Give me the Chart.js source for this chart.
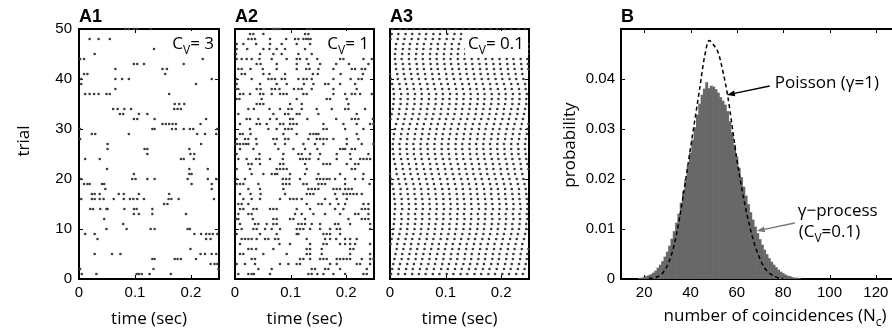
<!DOCTYPE html>
<html>
<head>
<meta charset="utf-8">
<script src="https://cdn.jsdelivr.net/npm/chart.js@4.4.0/dist/chart.umd.min.js"></script>
<style>
  html, body { margin: 0; padding: 0; background: #fff; overflow: hidden; width: 892px; height: 332px; }
  canvas { position: absolute; top: 0; }
</style>
</head>
<body>
<canvas id="a1" width="222" height="332" style="left:0px"></canvas>
<canvas id="a2" width="155" height="332" style="left:222px"></canvas>
<canvas id="a3" width="155" height="332" style="left:377px"></canvas>
<canvas id="b" width="400" height="332" style="left:532px"></canvas>
<script>
// tick values
var timeTicks = [0, 0.1, 0.2];
var trialTicks = [0, 10, 20, 30, 40, 50];
var countTicks = [20, 40, 60, 80, 100, 120];
var probTicks = [0, 0.01, 0.02, 0.03, 0.04];

// spike times in ms, one list per trial (trial 1 first)
var a1Spikes = [
  [5,31,103,107,112,126,164],
  [2,133,249],
  [235,242,247],
  [131,135,171,176,182,209],
  [28,59,74,217,225,237,245],
  [199],
  [],
  [33,227,235],
  [11,28,206,218,227,233,239,247],
  [49,85,128,135,194,198],
  [79],
  [45],
  [98,107,131,191],
  [20,25,38,49,51,81,98,103,131],
  [152,158],
  [4,23,28,37,44,62,80,91,97,104,116,160,165,178,241],
  [23,28,37,71,80,107,161],
  [47,237],
  [9,15,19,41,45,201,237],
  [4,95,101,122,135,194,230,245],
  [98,197,201],
  [50,197,230],
  [],
  [11,37,182,187,205],
  [122,199,206],
  [51,117,122,197],
  [51,218],
  [2],
  [23,29,89,211,225,245],
  [2,131,135,166,173,187,198,204,247],
  [149,155,161,167,173,217],
  [98,104,135,227],
  [73,79,107,122],
  [61,69,81,93,170,176,182],
  [171,179,188],
  [],
  [11,19,27,35,49,55,161],
  [65],
  [4,209],
  [4,65,77,89,237],
  [9,15,154],
  [65,149,157],
  [98,104,116,187],
  [2,9,221],
  [28],
  [134],
  [],
  [19,35,55],
  [],
  [83,89,98,104,128]
];

var a2Spikes = [
  [6,24,30,34,63,132,138,148,159,177,198,231,237],
  [42,66,138,144,162,168,189,237],
  [3,18,36,81,96,111,117,171,183,219,225,243],
  [30,36,117,123,135,153,159,165,183,189,195,201,207,228,243,249],
  [9,15,51,93,129,135,156,207,243],
  [24,30,38,69,129,135,156,207,213],
  [9,80,99,135,159,165,189,198,207,216,243],
  [12,18,24,30,39,54,60,72,78,129,162,171,182,198,207,219],
  [3,45,75,111,114,159,165,171,189],
  [12,33,39,54,66,81,111,117,123,135,153,171,183,189,243],
  [9,36,42,57,69,75,114,120,126,138,153,180,186,207,243],
  [2,6,32,69,75,99,105,126,204,228,234,240],
  [6,24,30,108,120,141,162,189,216,222,240],
  [9,15,33,39,63,69,75,111,135,180,195,228,234,240],
  [6,12,24,129,150,156,171,186,198,231,240],
  [15,30,45,81,99,105,111,120,162,183,201],
  [9,28,46,90,129,135,141,180,195,201,207,213,219,228],
  [24,45,87,132,138,144,150,177,183,189,198,204,210],
  [3,9,15,42,86,92,98,123,129,150,156,162,198,242],
  [3,18,86,92,98,117,147,153,159,165,170,180,198,216,230],
  [30,51,66,72,76,99,126,150,189,231],
  [3,27,75,81,87,93,129,210,216],
  [24,30,45,81,87,126,159,165,171,201,216,222],
  [6,21,38,44,63,86,117,122,128,134,150,183,208,225,231,237,243],
  [3,44,87,114,120,135,153,183,207,240],
  [9,33,78,105,126,148,189,194,198,210,216],
  [1,4,9,15,20,24,39,72,90,123,144,159,201,228,249],
  [3,18,24,38,69,75,90,96,132,147,153,159,165,177,201,222],
  [9,14,28,87,111,135,141,146,150,219],
  [27,60,75,90,96,102,159,165,198,231],
  [9,39,45,57,81,87,99,105,111,159,195,219,243,249],
  [21,27,42,63,75,99,104,130,182,210,216,222,248],
  [6,69,90,96,111,116,150,219],
  [24,34,62,81,96,102,120,147,174,198,204,234],
  [39,45,51,99,120,204],
  [3,8,48,111,165,171,201],
  [9,15,27,45,51,66,81,87,93,123,129,177,198,210,216,225,246],
  [2,6,39,46,66,72,80,106,114,120,138,177,219],
  [3,45,75,93,124,141,162,168,189,216],
  [3,30,60,66,72,84,90,114,123,129,138,177,208,222,228],
  [12,18,51,62,90,140,149,190,230],
  [6,12,28,50,75,111,128,134,150,177,210,216,228,234],
  [39,46,75,111,132,153,182,205,240],
  [3,12,21,30,44,66,93,111,117,129,148,189,195,231,246],
  [2,45,69,84,114,138,180,231],
  [3,22,51,62,75,90,126],
  [3,15,38,63,84,111,135],
  [24,30,36,63,92,108,114,123,128,132,136],
  [27,33,51,126,132],
  [52,68,72,76,81,130,136]
];

var a3Spikes = [
  [2,15,27,40,52,64,77,89,102,114,127,139,152,164,177,189,202,214,227,239],
  [4,16,29,41,54,66,79,92,104,117,129,142,154,167,179,192,205,217,230,242],
  [6,18,31,43,56,69,81,94,106,119,132,144,157,169,182,194,207,219,232,244],
  [8,21,33,46,58,71,83,96,109,121,134,146,159,171,184,196,209,221,234,246],
  [10,22,35,47,60,72,85,97,110,122,135,147,160,172,185,197,210,222,235,247],
  [12,24,37,49,62,74,87,99,112,124,137,149,162,174,187,199,212,224,237,249],
  [1,13,26,38,51,63,76,88,101,113,126,138,151,163,176,188,201,213,226,238],
  [3,15,28,40,53,66,78,91,103,116,128,141,153,166,178,191,203,216,228,241],
  [5,17,30,42,55,67,80,92,105,117,130,143,155,168,180,193,205,218,230,243],
  [6,19,31,44,56,69,81,94,107,119,132,144,157,169,182,194,207,220,232,245],
  [7,20,32,45,57,70,82,95,107,120,133,145,158,170,183,195,208,220,233,245],
  [8,21,33,46,58,71,84,96,109,121,134,146,159,171,184,197,209,222,234,247],
  [8,20,33,45,58,70,83,96,108,121,133,146,158,171,183,196,208,221,233,246],
  [9,22,34,47,59,72,84,97,109,122,134,147,160,172,185,197,210,222,235,247],
  [9,21,34,46,59,71,84,96,109,121,134,146,159,172,184,197,209,222,234,247],
  [8,21,33,46,58,71,83,96,108,121,133,146,158,171,183,196,208,221,233,246],
  [7,19,32,44,57,69,82,95,107,120,132,145,157,170,182,195,207,220,232,245],
  [6,19,31,44,56,69,81,94,106,119,131,144,156,169,182,194,207,219,232,244],
  [4,17,29,42,54,67,79,92,104,117,130,142,155,167,180,192,205,217,230,242],
  [2,15,27,40,52,65,77,90,103,115,128,140,153,165,178,190,203,215,228,240],
  [0,12,25,37,50,63,75,88,100,113,125,138,150,163,175,188,200,213,225,238],
  [11,23,36,48,61,73,86,99,111,124,136,149,161,174,186,199,211,224,236,249],
  [9,22,34,47,59,72,84,97,109,122,135,147,160,172,185,197,210,222,235,247],
  [7,20,32,45,57,70,82,95,107,120,132,145,158,170,183,195,208,220,233,245],
  [6,18,31,43,56,68,81,93,106,119,131,144,156,169,181,194,206,219,231,244],
  [5,18,30,43,55,68,80,93,105,118,130,143,156,168,181,193,206,218,231,243],
  [5,17,30,42,55,67,80,93,105,118,130,143,155,168,180,193,205,218,230,243],
  [6,19,31,44,56,69,81,94,106,119,132,144,157,169,182,194,207,219,232,244],
  [7,20,32,45,58,70,83,95,108,120,133,145,158,170,183,195,208,221,233,246],
  [9,22,34,47,59,72,84,97,109,122,135,147,160,172,185,197,210,222,235,247],
  [11,24,36,49,61,74,86,99,111,124,136,149,161,174,187,199,212,224,237,249],
  [1,14,26,39,51,64,76,89,101,114,127,139,152,164,177,189,202,214,227,239],
  [3,16,28,41,53,66,78,91,104,116,129,141,154,166,179,191,204,216,229,241],
  [5,17,30,42,55,67,80,92,105,118,130,143,155,168,180,193,205,218,230,243],
  [6,19,31,44,56,69,82,94,107,119,132,144,157,169,182,195,207,220,232,245],
  [7,19,32,44,57,70,82,95,107,120,132,145,158,170,183,195,208,220,233,245],
  [7,20,32,45,57,70,83,95,108,120,133,145,158,170,183,196,208,221,233,246],
  [6,18,31,43,56,68,81,94,106,119,131,144,156,169,181,194,207,219,232,244],
  [4,17,29,42,54,67,79,92,104,117,130,142,155,167,180,192,205,218,230,243],
  [2,14,27,39,52,64,77,89,102,115,127,140,152,165,177,190,202,215,227,240],
  [0,13,25,38,50,63,76,88,101,113,126,138,151,163,176,188,201,213,226,238],
  [11,24,36,49,61,74,86,99,112,124,137,149,162,174,187,199,212,224,237,249],
  [10,23,35,48,60,73,85,98,110,123,136,148,161,173,186,198,211,223,236,248],
  [9,21,34,46,59,72,84,97,109,122,134,147,159,172,184,197,210,222,235,247],
  [9,22,34,47,59,72,84,97,110,122,135,147,160,172,185,197,210,222,235,248],
  [10,23,35,48,60,73,86,98,111,123,136,148,161,173,186,199,211,224,236,249],
  [11,24,36,49,61,74,86,99,111,124,137,149,162,174,187,199,212,224,237,249],
  [1,14,26,39,51,64,77,89,102,114,127,139,152,164,177,190,202,215,227,240],
  [3,15,28,40,53,65,78,90,103,116,128,141,153,166,178,191,203,216,228,241],
  [5,18,30,43,55,68,80,93,105,118,131,143,156,168,181,193,206,218,231,243]
];

// histogram of coincidence counts (gamma process, CV = 0.1)
var histBins = [18,19,20,21,22,23,24,25,26,27,28,29,30,31,32,33,34,35,36,37,38,39,40,41,42,43,44,45,46,47,
  48,49,50,51,52,53,54,55,56,57,58,59,60,61,62,63,64,65,66,67,68,69,70,71,72,73,74,75,76,77,78,79,80,81,82,83,84,85,86,87];
var histProb = [0.0001,0.0002,0.0003,0.0005,0.0007,0.0009,0.0012,0.0016,0.0022,0.0028,0.0035,0.0044,0.0054,0.0066,0.0080,
  0.0095,0.0112,0.0130,0.0152,0.0175,0.0199,0.0225,0.0252,0.0278,0.0303,0.0328,0.0350,0.0368,0.0380,0.0393,
  0.0381,0.0386,0.0384,0.0379,0.0372,0.0363,0.0356,0.0348,0.0335,0.0315,0.0292,0.0268,0.0244,0.0222,0.0203,
  0.0184,0.0166,0.0149,0.0133,0.0118,0.0104,0.0091,0.0079,0.0068,0.0058,0.0049,0.0041,0.0034,0.0028,0.0023,
  0.0018,0.0014,0.0011,0.0008,0.0006,0.0005,0.0003,0.0002,0.0002,0.0001];

// Poisson reference curve (dashed)
var poissonN = [22,24,26,28,30,32,34,36,38,40,42,44,46,48,50,52,54,56,58,60,62,64,66,68,70,72,74,76,78,80];
var poissonProb = [0.0001,0.0002,0.0005,0.0012,0.0027,0.0052,0.0090,0.0142,0.0201,0.0262,0.0322,0.0382,0.0443,0.0477,
  0.0468,0.0452,0.0415,0.0368,0.0305,0.0240,0.0185,0.0137,0.0097,0.0064,0.0040,0.0022,0.0012,0.0006,0.0002,0.0001];

var TEXT_FONT = '"Open Sans", "Noto Sans", sans-serif';
var TICK_FONT = { family: '"Liberation Sans", Arial, sans-serif', size: 15 };
var DOT = '#3a3a3a';

function rasterPoints(trains) {
  var pts = [];
  trains.forEach(function (train, i) {
    train.forEach(function (ms) { pts.push({ x: ms / 1000, y: i + 1 }); });
  });
  return pts;
}

// text made of pieces (for subscripts)
function richText(ctx, parts, x, y, align) {
  var w = 0;
  parts.forEach(function (p) { ctx.font = p.font; w += ctx.measureText(p.t).width; });
  var cx = align === 'right' ? x - w : (align === 'center' ? x - w / 2 : x);
  var left = cx;
  ctx.textAlign = 'left';
  ctx.textBaseline = 'alphabetic';
  parts.forEach(function (p) {
    ctx.font = p.font;
    ctx.fillText(p.t, cx, y + (p.dy || 0));
    cx += ctx.measureText(p.t).width;
  });
  return { left: left, width: w };
}

function big(t) { return { t: t, font: '17px ' + TEXT_FONT }; }
function sub(t) { return { t: t, font: '12px ' + TEXT_FONT, dy: 5 }; }

function arrow(ctx, x1, y1, x2, y2, color) {
  var a = Math.atan2(y2 - y1, x2 - x1), len = 8, hw = 3;
  ctx.save();
  ctx.strokeStyle = color; ctx.fillStyle = color; ctx.lineWidth = 1.3;
  ctx.beginPath(); ctx.moveTo(x1, y1);
  ctx.lineTo(x2 - Math.cos(a) * len * 0.8, y2 - Math.sin(a) * len * 0.8); ctx.stroke();
  ctx.beginPath();
  ctx.moveTo(x2, y2);
  ctx.lineTo(x2 - Math.cos(a) * len + Math.sin(a) * hw, y2 - Math.sin(a) * len - Math.cos(a) * hw);
  ctx.lineTo(x2 - Math.cos(a) * len - Math.sin(a) * hw, y2 - Math.sin(a) * len + Math.cos(a) * hw);
  ctx.closePath(); ctx.fill();
  ctx.restore();
}

// box, inward ticks, panel letters and labels
var deco = {
  id: 'deco',
  beforeDatasetsDraw: function (chart, args, o) {
    var ctx = chart.ctx, ca = chart.chartArea, sx = chart.scales.x, sy = chart.scales.y;
    ctx.save();
    ctx.strokeStyle = '#000';
    ctx.lineWidth = 1;
    ctx.beginPath();
    sx.ticks.forEach(function (t) {
      var px = Math.round(sx.getPixelForValue(t.value)) + 0.5;
      ctx.moveTo(px, ca.bottom); ctx.lineTo(px, ca.bottom - 4);
      ctx.moveTo(px, ca.top); ctx.lineTo(px, ca.top + 4);
    });
    sy.ticks.forEach(function (t) {
      var py = Math.round(sy.getPixelForValue(t.value)) + 0.5;
      ctx.moveTo(ca.left, py); ctx.lineTo(ca.left + 4, py);
      ctx.moveTo(ca.right, py); ctx.lineTo(ca.right - 4, py);
    });
    ctx.stroke();
    ctx.lineWidth = 2;
    ctx.strokeRect(ca.left, ca.top, ca.right - ca.left, ca.bottom - ca.top);
    ctx.restore();
  },
  afterDatasetsDraw: function (chart, args, o) {
    var ctx = chart.ctx, ca = chart.chartArea;
    ctx.save();
    ctx.fillStyle = '#000';
    // panel letter
    ctx.font = 'bold 18px "Liberation Sans", Arial, sans-serif';
    ctx.textAlign = 'left'; ctx.textBaseline = 'alphabetic';
    ctx.fillText(o.label, ca.left, ca.top - 7);
    if (o.cv) {
      var parts = [big('C'), sub('V'), big('= ' + o.cv)];
      ctx.save(); ctx.globalAlpha = 0;
      var m = richText(ctx, parts, ca.right - 5, ca.top + 20, 'right');
      ctx.restore();
      ctx.fillStyle = '#fff';
      ctx.fillRect(m.left - 3, ca.top + 2, ca.right - 1 - (m.left - 3), 26);
      ctx.fillStyle = '#000';
      richText(ctx, parts, ca.right - 5, ca.top + 20, 'right');
    }
    if (o.xTitle) {
      richText(ctx, o.xTitle, o.xTitleX != null ? ca.left + o.xTitleX : (ca.left + ca.right) / 2, o.xTitleY, 'center');
    }
    if (o.yTitle) {
      ctx.save();
      ctx.translate(ca.left - o.yTitleDx, o.yTitleY);
      ctx.rotate(-Math.PI / 2);
      ctx.font = '17px ' + TEXT_FONT;
      ctx.textAlign = 'center'; ctx.textBaseline = 'alphabetic';
      ctx.fillText(o.yTitle, 0, 0);
      ctx.restore();
    }
    if (o.notes) {
      var sx = chart.scales.x, sy = chart.scales.y;
      o.notes.forEach(function (n) {
        if (n.arrow) {
          arrow(ctx, sx.getPixelForValue(n.arrow[0]), sy.getPixelForValue(n.arrow[1]),
            sx.getPixelForValue(n.arrow[2]), sy.getPixelForValue(n.arrow[3]), n.color);
        } else {
          ctx.fillStyle = '#000';
          richText(ctx, n.parts, sx.getPixelForValue(n.x), sy.getPixelForValue(n.y), 'left');
        }
      });
    }
    ctx.restore();
  }
};

function tickList(list) {
  return function (s) { s.ticks = list.map(function (v) { return { value: v }; }); };
}

function rasterChart(id, trains, label, cv, yWidth, showY) {
  return new Chart(document.getElementById(id), {
    type: 'scatter',
    data: {
      datasets: [{
        data: rasterPoints(trains),
        pointRadius: 1.3,
        pointHoverRadius: 1.3,
        backgroundColor: DOT,
        borderWidth: 0,
        clip: false
      }]
    },
    options: {
      responsive: false,
      animation: false,
      events: [],
      layout: { padding: { top: 29, right: 3, left: 0, bottom: 0 } },
      scales: {
        x: {
          type: 'linear', min: 0, max: 0.25,
          afterBuildTicks: tickList(timeTicks),
          afterFit: function (s) { s.height = 53; },
          grid: { display: false, drawTicks: false },
          border: { display: false },
          ticks: { padding: 5, font: TICK_FONT, color: '#000', maxRotation: 0, autoSkip: false,
            callback: function (v) { return String(v); } }
        },
        y: {
          type: 'linear', min: 0, max: 50,
          afterBuildTicks: tickList(trialTicks),
          afterFit: function (s) { s.width = yWidth; },
          grid: { display: false, drawTicks: false },
          border: { display: false },
          ticks: { display: showY, padding: 7, font: TICK_FONT, color: '#000',
            callback: function (v) { return String(v); } }
        }
      },
      plugins: {
        legend: { display: false },
        tooltip: { enabled: false },
        deco: {
          label: label, cv: cv,
          xTitle: [big('time (sec)')], xTitleY: 324,
          yTitle: showY ? 'trial' : null, yTitleDx: 50, yTitleY: 141
        }
      }
    },
    plugins: [deco]
  });
}

rasterChart('a1', a1Spikes, 'A1', '3', 79, true);
rasterChart('a2', a2Spikes, 'A2', '1', 13, false);
rasterChart('a3', a3Spikes, 'A3', '0.1', 13, false);

// panel B: histogram + Poisson curve
new Chart(document.getElementById('b'), {
  type: 'bar',
  data: {
    datasets: [{
      type: 'line',
      data: poissonN.map(function (n, i) { return { x: n, y: poissonProb[i] }; }),
      borderColor: '#000',
      borderWidth: 1.5,
      borderDash: [4, 3],
      pointRadius: 0,
      cubicInterpolationMode: 'monotone',
      fill: false,
      order: 1
    }, {
      type: 'bar',
      data: histBins.map(function (b, i) { return { x: b, y: histProb[i] }; }),
      backgroundColor: '#686868',
      borderWidth: 0,
      barPercentage: 1,
      categoryPercentage: 1,
      order: 2
    }]
  },
  options: {
    responsive: false,
    animation: false,
    events: [],
    layout: { padding: { top: 29, right: 33, left: 0, bottom: 0 } },
    scales: {
      x: {
        type: 'linear', min: 10, max: 130, offset: false,
        afterBuildTicks: tickList(countTicks),
        afterFit: function (s) { s.height = 53; },
        grid: { display: false, drawTicks: false, offset: false },
        border: { display: false },
        ticks: { padding: 5, font: TICK_FONT, color: '#000', maxRotation: 0, autoSkip: false,
          callback: function (v) { return String(v); } }
      },
      y: {
        type: 'linear', min: 0, max: 0.05,
        afterBuildTicks: tickList(probTicks),
        afterFit: function (s) { s.width = 89; },
        grid: { display: false, drawTicks: false },
        border: { display: false },
        ticks: { padding: 6, font: TICK_FONT, color: '#000',
          callback: function (v) { return String(v); } }
      }
    },
    plugins: {
      legend: { display: false },
      tooltip: { enabled: false },
      deco: {
        label: 'B',
        xTitle: [big('number of coincidences (N'), sub('c'), big(')')], xTitleX: 154, xTitleY: 321,
        yTitle: 'probability', yTitleDx: 46, yTitleY: 145,
        notes: [
          { parts: [big('Poisson (γ=1)')], x: 76.4, y: 0.0382 },
          { arrow: [74.2, 0.0386, 55.7, 0.0368], color: '#000' },
          { parts: [big('γ−process')], x: 86.3, y: 0.0126 },
          { parts: [big('(C'), sub('V'), big('=0.1)')], x: 86.7, y: 0.0085 },
          { arrow: [85, 0.0112, 68.6, 0.0096], color: '#777' }
        ]
      }
    }
  },
  plugins: [deco]
});
</script>
</body>
</html>
